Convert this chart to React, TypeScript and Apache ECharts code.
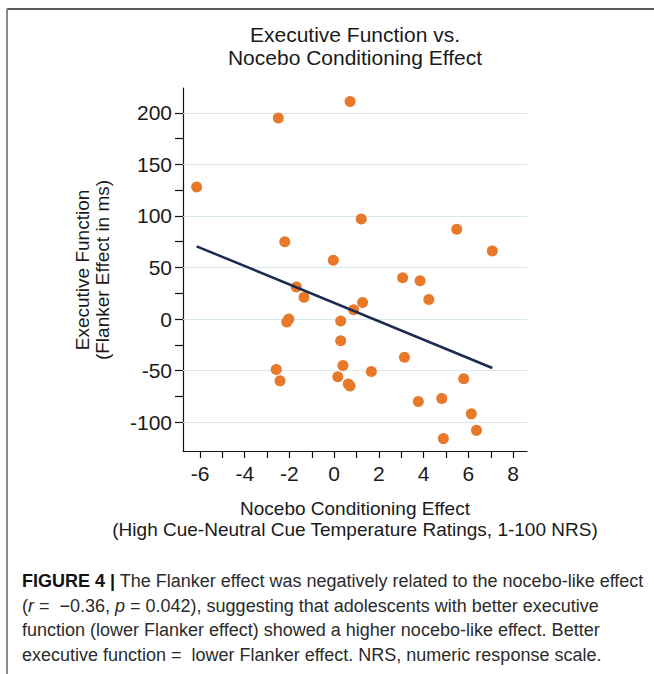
import React, { useEffect, useRef } from "react";
import * as echarts from "echarts";

const pointsX = [-6.15, -2.5, 0.71, 1.21, -2.21, -0.04, 5.48, 7.07, 3.06, 3.84, 4.23, -1.69, -1.35, 1.27, 0.87, -2.03, -2.12, 0.29, 0.29, 3.14, 0.39, -2.59, -2.42, 0.16, 1.66, 0.63, 0.71, 5.79, 3.76, 4.81, 6.13, 6.36, 4.88];
const pointsY = [128, 195, 211, 97, 75, 57, 87, 66, 40, 37, 19, 31, 21, 16, 9, 0, -3, -2, -21, -37, -45, -49, -60, -56, -51, -63, -65, -58, -80, -77, -92, -108, -116];
const fitX = [-6.15, 7.07];
const fitY = [70.5, -47.5];

const xTickValues = [-6, -5, -4, -3, -2, -1, 0, 1, 2, 3, 4, 5, 6, 7, 8];
const xLabelValues = [-6, -4, -2, 0, 2, 4, 6, 8];
const yTickValues = [-100, -75, -50, -25, 0, 25, 50, 75, 100, 125, 150, 175, 200];
const yLabelValues = [-100, -50, 0, 50, 100, 150, 200];
const gridValues = [-100, -50, 0, 50, 100, 150, 200];

const titleLines = ["Executive Function vs.", "Nocebo Conditioning Effect"];
const yNameLines = ["Executive Function", "(Flanker Effect in ms)"];
const xNameLines = ["Nocebo Conditioning Effect", "(High Cue-Neutral Cue Temperature Ratings, 1-100 NRS)"];
const captionLines = [
  "{b|FIGURE 4 |} The Flanker effect was negatively related to the nocebo-like effect",
  "({i|r} =  \u22120.36, {i|p} = 0.042), suggesting that adolescents with better executive",
  "function (lower Flanker effect) showed a higher nocebo-like effect. Better",
  "executive function =  lower Flanker effect. NRS, numeric response scale.",
];

const FONT = "'Liberation Sans', Arial, Helvetica, sans-serif";

export default function App() {
  const ref = useRef<HTMLDivElement>(null);
  useEffect(() => {
    if (!ref.current) return;
    const chart = echarts.init(ref.current, null, { renderer: "svg" });
    const scatterData = pointsX.map((x, i) => [x, pointsY[i]]);
    const fitData = fitX.map((x, i) => [x, fitY[i]]);
    const textColor = "#1a1a1a";
    const captionColor = "#2b2b2b";
    const capSize = 18;
    const graphics: any[] = [
      { type: "line", shape: { x1: 7, y1: 9, x2: 654, y2: 9 }, style: { stroke: "#222", lineWidth: 1.5 }, silent: true },
      { type: "line", shape: { x1: 7, y1: 9, x2: 7, y2: 674 }, style: { stroke: "#8a8a8a", lineWidth: 2 }, silent: true },
    ];
    titleLines.forEach((t, i) => {
      graphics.push({
        type: "text", x: 355, y: 34 + i * 23,
        style: { text: t, fontFamily: FONT, fontSize: 21, fill: textColor, textAlign: "center", textVerticalAlign: "middle" },
      });
    });
    yNameLines.forEach((t, i) => {
      graphics.push({
        type: "text", x: 82 + i * 20.5, y: 270, rotation: Math.PI / 2,
        style: { text: t, fontFamily: FONT, fontSize: 19, fill: textColor, textAlign: "center", textVerticalAlign: "middle" },
      });
    });
    xNameLines.forEach((t, i) => {
      graphics.push({
        type: "text", x: 355, y: 508 + i * 21,
        style: { text: t, fontFamily: FONT, fontSize: 19, fill: textColor, textAlign: "center", textVerticalAlign: "middle" },
      });
    });
    captionLines.forEach((t, i) => {
      graphics.push({
        type: "text", x: 22, y: 581 + i * 24.5,
        style: {
          text: t, fontFamily: FONT, fontSize: capSize, fill: captionColor, textAlign: "left", textVerticalAlign: "middle",
          rich: {
            b: { fontFamily: FONT, fontSize: capSize, fontWeight: "bold", fill: "#111", color: "#111" },
            i: { fontFamily: FONT, fontSize: capSize, fontStyle: "italic", fill: captionColor, color: captionColor },
          },
        },
      });
    });

    chart.setOption({
      animation: false,
      backgroundColor: "#ffffff",
      grid: { left: 183, right: 127, top: 88, bottom: 223, containLabel: false, outerBoundsMode: "none" },
      xAxis: {
        type: "value", min: -6.76, max: 8.62,
        axisLine: { show: true, onZero: false, lineStyle: { color: "#111", width: 1.2 } },
        axisTick: { show: true, customValues: xTickValues, length: 7, lineStyle: { color: "#111", width: 1.2 } },
        axisLabel: { show: true, customValues: xLabelValues, fontSize: 21, fontFamily: FONT, color: textColor, margin: 12 },
        splitLine: { show: false },
      },
      yAxis: {
        type: "value", min: -128, max: 224,
        axisLine: { show: true, onZero: false, lineStyle: { color: "#111", width: 1.2 } },
        axisTick: { show: true, customValues: yTickValues, length: 8, lineStyle: { color: "#111", width: 1.2 } },
        axisLabel: { show: true, customValues: yLabelValues, fontSize: 21, fontFamily: FONT, color: textColor, margin: 11 },
        splitLine: { show: false },
      },
      graphic: graphics,
      series: [
        {
          type: "scatter",
          data: scatterData,
          symbol: "circle",
          symbolSize: 11,
          itemStyle: { color: "#E8792B", opacity: 1 },
          z: 3,
          silent: true,
          markLine: {
            silent: true,
            symbol: ["none", "none"],
            label: { show: false },
            lineStyle: { color: "#d6e8ee", width: 1.2, type: "solid" },
            data: gridValues.map((v) => ({ yAxis: v })),
            z: 1,
          },
        },
        {
          type: "line",
          data: fitData,
          showSymbol: false,
          lineStyle: { color: "#1b2a4e", width: 2.5 },
          itemStyle: { color: "#1b2a4e" },
          z: 4,
          silent: true,
        },
      ],
    });
    return () => chart.dispose();
  }, []);
  return <div ref={ref} style={{ position: "fixed", left: 0, top: 0, width: 654, height: 674 }} />;
}
